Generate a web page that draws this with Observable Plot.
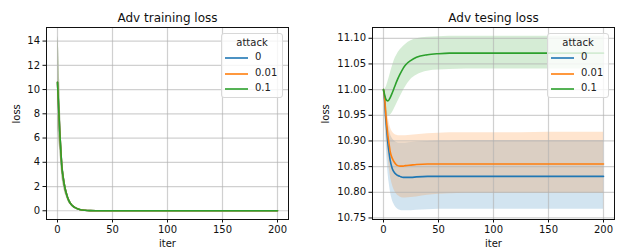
<!DOCTYPE html>
<html>
<head>
<meta charset="utf-8">
<script src="https://cdn.jsdelivr.net/npm/d3@7"></script>
<script src="https://cdn.jsdelivr.net/npm/@observablehq/plot@0.6"></script>
<style>
  html, body { margin: 0; padding: 0; background: white; }
  #wrap { position: relative; width: 617px; height: 247px; overflow: hidden; font-family: "DejaVu Sans", sans-serif; }
  #wrap > svg { position: absolute; top: 0; overflow: visible; }
  .legend { position: absolute; box-sizing: border-box; width: 62px; height: 65px; background: rgba(255,255,255,0.8);
            border: 1px solid #d8d8d8; border-radius: 3px; font-size: 10px; color: #222; }
  .legend .ttl { position: absolute; left: 0; right: 0; top: 3px; text-align: center; }
  .legend .row { position: absolute; left: 0; width: 100%; height: 12px; }
  .legend .sw { position: absolute; left: 2px; top: 0; }
  .legend .lb { position: absolute; left: 33px; top: -1px; white-space: nowrap; }
</style>
</head>
<body>
<div id="wrap"></div>
<script>
// ---------- data ----------
const attacks = ["0", "0.01", "0.1"];
const colors = ["#1f77b4", "#ff7f0e", "#2ca02c"];

// training loss (all three attack levels overlap)
const trainIter = [0, 1, 2, 3, 4, 5, 6, 7, 8, 10, 12, 14, 16, 18, 20, 25, 30, 40, 50, 100, 150, 200];
const trainMean = [10.6, 8.6, 6.6, 5.0, 3.6, 2.85, 2.25, 1.8, 1.45, 0.9, 0.58, 0.38, 0.26, 0.17, 0.11, 0.04, 0.015, 0, 0, 0, 0, 0];
const trainLow  = [6.8, 6.0, 5.0, 3.9, 2.8, 2.2, 1.75, 1.4, 1.15, 0.7, 0.46, 0.3, 0.21, 0.14, 0.09, 0.03, 0.01, 0, 0, 0, 0, 0];
const trainHigh = [14.4, 13.4, 10.6, 7.6, 5.2, 3.9, 3.0, 2.35, 1.85, 1.14, 0.73, 0.48, 0.32, 0.21, 0.14, 0.05, 0.02, 0, 0, 0, 0, 0];

// testing loss
const testIter = [0, 1, 2, 3, 4, 5, 6, 8, 10, 12, 15, 18, 20, 25, 30, 40, 50, 60, 75, 100, 125, 150, 175, 200];
const test0Mean = [11.0, 10.98, 10.945, 10.92, 10.895, 10.878, 10.863, 10.846, 10.838, 10.834, 10.831, 10.829, 10.829, 10.829, 10.83, 10.831, 10.831, 10.831, 10.831, 10.831, 10.831, 10.831, 10.831, 10.831];
const test0Low  = [11.0, 10.96, 10.91, 10.87, 10.84, 10.82, 10.805, 10.785, 10.775, 10.769, 10.765, 10.764, 10.764, 10.764, 10.765, 10.766, 10.767, 10.767, 10.767, 10.767, 10.767, 10.767, 10.767, 10.767];
const test0High = [11.0, 10.995, 10.975, 10.955, 10.94, 10.925, 10.915, 10.905, 10.9, 10.897, 10.896, 10.896, 10.896, 10.897, 10.898, 10.899, 10.9, 10.9, 10.901, 10.901, 10.901, 10.901, 10.901, 10.901];
const test1Mean = [11.0, 10.985, 10.955, 10.93, 10.91, 10.895, 10.88, 10.866, 10.858, 10.853, 10.851, 10.851, 10.852, 10.853, 10.854, 10.855, 10.855, 10.855, 10.855, 10.855, 10.855, 10.855, 10.855, 10.855];
const test1Low  = [11.0, 10.97, 10.93, 10.895, 10.87, 10.85, 10.835, 10.815, 10.803, 10.796, 10.791, 10.789, 10.789, 10.79, 10.791, 10.794, 10.796, 10.797, 10.798, 10.798, 10.798, 10.798, 10.798, 10.798];
const test1High = [11.0, 10.995, 10.98, 10.965, 10.95, 10.938, 10.928, 10.918, 10.913, 10.911, 10.91, 10.91, 10.91, 10.911, 10.912, 10.914, 10.915, 10.916, 10.916, 10.916, 10.916, 10.917, 10.917, 10.917];
const test2Mean = [11.0, 10.99, 10.982, 10.979, 10.978, 10.98, 10.984, 10.994, 11.005, 11.016, 11.03, 11.042, 11.048, 11.057, 11.063, 11.068, 11.07, 11.071, 11.071, 11.071, 11.071, 11.071, 11.071, 11.071];
const test2Low  = [11.0, 10.975, 10.962, 10.954, 10.95, 10.949, 10.95, 10.955, 10.963, 10.972, 10.985, 10.998, 11.005, 11.02, 11.028, 11.036, 11.038, 11.039, 11.04, 11.04, 11.04, 11.04, 11.04, 11.04];
const test2High = [11.0, 11.0, 11.003, 11.008, 11.015, 11.022, 11.03, 11.045, 11.058, 11.067, 11.077, 11.084, 11.088, 11.095, 11.099, 11.102, 11.103, 11.104, 11.104, 11.104, 11.104, 11.104, 11.104, 11.104];

const xTicks = [0, 50, 100, 150, 200];
const trainYTicks = [0, 2, 4, 6, 8, 10, 12, 14];
const testYTicks = [10.75, 10.80, 10.85, 10.90, 10.95, 11.00, 11.05, 11.10];

// ---------- tables ----------
const trainRows = attacks.flatMap(a => trainIter.map((it, i) => ({attack: a, iter: it, mean: trainMean[i], lo: trainLow[i], hi: trainHigh[i]})));
const testSets = [[test0Mean, test0Low, test0High], [test1Mean, test1Low, test1High], [test2Mean, test2Low, test2High]];
const testRows = attacks.flatMap((a, k) => testIter.map((it, i) => ({attack: a, iter: it, mean: testSets[k][0][i], lo: testSets[k][1][i], hi: testSets[k][2][i]})));

function panel({rows, title, yDomain, yTicks, yFormat, width, marginLeft, marginRight, ylabDx}) {
  const bands = attacks.map((a, k) => Plot.areaY(rows.filter(d => d.attack === a),
    {x: "iter", y1: "lo", y2: "hi", fill: colors[k], fillOpacity: 0.2, curve: "monotone-x"}));
  const lines = attacks.map((a, k) => Plot.lineY(rows.filter(d => d.attack === a),
    {x: "iter", y: "mean", stroke: colors[k], strokeWidth: 1.6, curve: "monotone-x"}));
  return Plot.plot({
    width, height: 247,
    marginLeft, marginRight, marginTop: 27, marginBottom: 28,
    style: {fontFamily: "'DejaVu Sans', sans-serif", fontSize: "10px", background: "transparent", color: "#111"},
    x: {domain: [-10, 210]},
    y: {domain: yDomain},
    marks: [
      ...bands,
      Plot.gridX(xTicks, {stroke: "#b0b0b0", strokeOpacity: 0.6, strokeWidth: 1.2}),
      Plot.gridY(yTicks, {stroke: "#b0b0b0", strokeOpacity: 0.6, strokeWidth: 1.2}),
      ...lines,
      Plot.frame({stroke: "#111", strokeWidth: 1}),
      Plot.axisX(xTicks, {tickSize: 3.5, tickPadding: 3, label: null, stroke: "#111"}),
      Plot.axisY(yTicks, {tickSize: 3.5, tickPadding: 3, label: null, tickFormat: yFormat, stroke: "#111"}),
      Plot.text([title], {frameAnchor: "top", dy: -6, lineAnchor: "bottom", fontSize: 12}),
      Plot.text(["loss"], {frameAnchor: "left", dx: ylabDx, rotate: -90}),
      Plot.text(["iter"], {frameAnchor: "bottom", dy: 27, lineAnchor: "bottom"})
    ]
  });
}

const wrap = document.getElementById("wrap");
const left = panel({rows: trainRows, title: "Adv training loss", yDomain: [-0.72, 15.12], yTicks: trainYTicks,
  yFormat: d3.format("d"), width: 310, marginLeft: 46, marginRight: 22, ylabDx: -30});
left.style.left = "0px";
wrap.appendChild(left);
const right = panel({rows: testRows, title: "Adv tesing loss", yDomain: [10.747, 11.121], yTicks: testYTicks,
  yFormat: d3.format(".2f"), width: 307, marginLeft: 62, marginRight: 3, ylabDx: -47});
right.style.left = "310px";
wrap.appendChild(right);

function legend(x, y) {
  const div = document.createElement("div");
  div.className = "legend";
  div.style.left = x + "px";
  div.style.top = y + "px";
  let html = '<div class="ttl">attack</div>';
  attacks.forEach((a, k) => {
    html += `<div class="row" style="top:${18 + k * 15.5}px"><svg class="sw" width="26" height="12"><line x1="1" x2="24" y1="6" y2="6" stroke="${colors[k]}" stroke-width="1.6"/></svg><div class="lb">${a}</div></div>`;
  });
  div.innerHTML = html;
  wrap.appendChild(div);
}
legend(221, 33);
legend(547, 33);
</script>
</body>
</html>
